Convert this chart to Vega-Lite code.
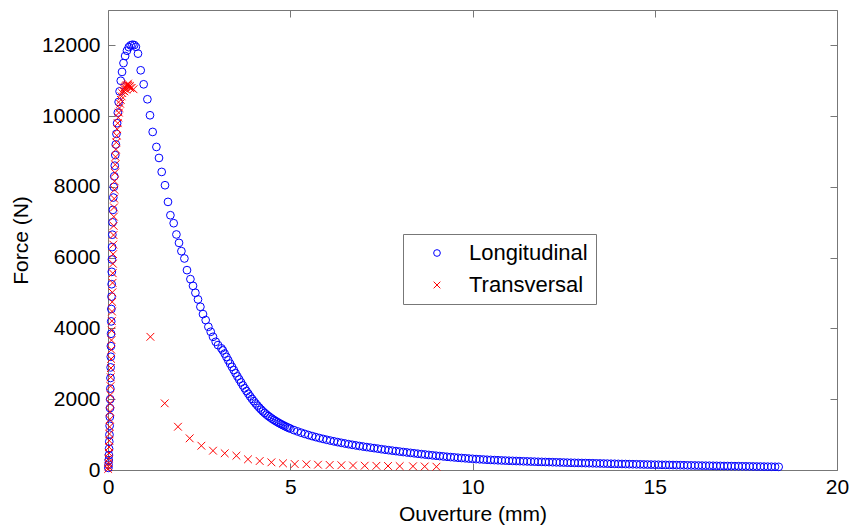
{
"$schema": "https://vega.github.io/schema/vega-lite/v6.json",
"width": 729, "height": 460,
"autosize": {"type": "none"},
"padding": {"left": 108, "top": 10, "right": 15, "bottom": 59},
"background": "white",
"config": {"font": "Liberation Sans", "view": {"stroke": "#777", "strokeWidth": 1}},
"datasets": {"d": [
{"s":"Longitudinal","x":0.01,"y":60},{"s":"Longitudinal","x":0.015,"y":150},{"s":"Longitudinal","x":0.02,"y":280},{"s":"Longitudinal","x":0.025,"y":420},{"s":"Longitudinal","x":0.03,"y":600},{"s":"Longitudinal","x":0.035,"y":800},{"s":"Longitudinal","x":0.04,"y":1000},{"s":"Longitudinal","x":0.045,"y":1250},{"s":"Longitudinal","x":0.05,"y":1500},{"s":"Longitudinal","x":0.055,"y":1750},{"s":"Longitudinal","x":0.06,"y":2000},{"s":"Longitudinal","x":0.064,"y":2300},{"s":"Longitudinal","x":0.068,"y":2600},{"s":"Longitudinal","x":0.072,"y":2900},{"s":"Longitudinal","x":0.076,"y":3200},{"s":"Longitudinal","x":0.08,"y":3500},{"s":"Longitudinal","x":0.084,"y":3850},{"s":"Longitudinal","x":0.088,"y":4200},{"s":"Longitudinal","x":0.092,"y":4550},{"s":"Longitudinal","x":0.096,"y":4900},{"s":"Longitudinal","x":0.1,"y":5250},{"s":"Longitudinal","x":0.104,"y":5600},{"s":"Longitudinal","x":0.108,"y":5950},{"s":"Longitudinal","x":0.113,"y":6300},{"s":"Longitudinal","x":0.119,"y":6650},{"s":"Longitudinal","x":0.126,"y":7000},{"s":"Longitudinal","x":0.134,"y":7350},{"s":"Longitudinal","x":0.145,"y":7700},{"s":"Longitudinal","x":0.158,"y":8000},{"s":"Longitudinal","x":0.172,"y":8300},{"s":"Longitudinal","x":0.186,"y":8600},{"s":"Longitudinal","x":0.2,"y":8900},{"s":"Longitudinal","x":0.215,"y":9200},{"s":"Longitudinal","x":0.232,"y":9500},{"s":"Longitudinal","x":0.25,"y":9800},{"s":"Longitudinal","x":0.27,"y":10100},{"s":"Longitudinal","x":0.292,"y":10400},{"s":"Longitudinal","x":0.318,"y":10700},{"s":"Longitudinal","x":0.35,"y":11000},{"s":"Longitudinal","x":0.385,"y":11250},{"s":"Longitudinal","x":0.425,"y":11500},{"s":"Longitudinal","x":0.47,"y":11700},{"s":"Longitudinal","x":0.52,"y":11850},{"s":"Longitudinal","x":0.57,"y":11950},{"s":"Longitudinal","x":0.62,"y":12000},{"s":"Longitudinal","x":0.67,"y":12020},{"s":"Longitudinal","x":0.72,"y":12010},{"s":"Longitudinal","x":0.765,"y":11960},
{"s":"Longitudinal","x":0.823,"y":11767},{"s":"Longitudinal","x":0.897,"y":11296},{"s":"Longitudinal","x":0.979,"y":10900},{"s":"Longitudinal","x":1.081,"y":10477},{"s":"Longitudinal","x":1.152,"y":10025},{"s":"Longitudinal","x":1.226,"y":9554},{"s":"Longitudinal","x":1.328,"y":9130},{"s":"Longitudinal","x":1.399,"y":8819},{"s":"Longitudinal","x":1.473,"y":8424},{"s":"Longitudinal","x":1.564,"y":8048},{"s":"Longitudinal","x":1.646,"y":7577},{"s":"Longitudinal","x":1.712,"y":7200},{"s":"Longitudinal","x":1.802,"y":6975},{"s":"Longitudinal","x":1.877,"y":6656},{"s":"Longitudinal","x":1.948,"y":6419},{"s":"Longitudinal","x":2.014,"y":6185},{"s":"Longitudinal","x":2.096,"y":5978},{"s":"Longitudinal","x":2.167,"y":5648},{"s":"Longitudinal","x":2.261,"y":5394},{"s":"Longitudinal","x":2.332,"y":5205},{"s":"Longitudinal","x":2.398,"y":5007},{"s":"Longitudinal","x":2.469,"y":4821},{"s":"Longitudinal","x":2.535,"y":4612},{"s":"Longitudinal","x":2.606,"y":4406},{"s":"Longitudinal","x":2.68,"y":4236},{"s":"Longitudinal","x":2.754,"y":4047},{"s":"Longitudinal","x":2.818,"y":3906},{"s":"Longitudinal","x":2.881,"y":3764},{"s":"Longitudinal","x":2.955,"y":3623},{"s":"Longitudinal","x":3.018,"y":3530},{"s":"Longitudinal","x":3.111,"y":3437},
{"s":"Longitudinal","x":3.15,"y":3380},{"s":"Longitudinal","x":3.2,"y":3290},{"s":"Longitudinal","x":3.25,"y":3195},{"s":"Longitudinal","x":3.3,"y":3100},{"s":"Longitudinal","x":3.35,"y":3005},{"s":"Longitudinal","x":3.4,"y":2915},{"s":"Longitudinal","x":3.45,"y":2825},{"s":"Longitudinal","x":3.5,"y":2735},{"s":"Longitudinal","x":3.55,"y":2645},{"s":"Longitudinal","x":3.6,"y":2560},{"s":"Longitudinal","x":3.65,"y":2475},{"s":"Longitudinal","x":3.7,"y":2390},{"s":"Longitudinal","x":3.75,"y":2310},{"s":"Longitudinal","x":3.8,"y":2230},{"s":"Longitudinal","x":3.85,"y":2155},{"s":"Longitudinal","x":3.9,"y":2080},{"s":"Longitudinal","x":3.95,"y":2010},{"s":"Longitudinal","x":4.0,"y":1945},{"s":"Longitudinal","x":4.05,"y":1880},{"s":"Longitudinal","x":4.1,"y":1820},{"s":"Longitudinal","x":4.15,"y":1762},{"s":"Longitudinal","x":4.2,"y":1708},{"s":"Longitudinal","x":4.25,"y":1657},{"s":"Longitudinal","x":4.3,"y":1610},{"s":"Longitudinal","x":4.35,"y":1566},{"s":"Longitudinal","x":4.4,"y":1525},{"s":"Longitudinal","x":4.45,"y":1487},{"s":"Longitudinal","x":4.5,"y":1450},{"s":"Longitudinal","x":4.55,"y":1416},{"s":"Longitudinal","x":4.6,"y":1383},{"s":"Longitudinal","x":4.65,"y":1352},{"s":"Longitudinal","x":4.7,"y":1322},{"s":"Longitudinal","x":4.75,"y":1294},{"s":"Longitudinal","x":4.8,"y":1267},{"s":"Longitudinal","x":4.85,"y":1241},{"s":"Longitudinal","x":4.9,"y":1216},{"s":"Longitudinal","x":4.95,"y":1193},{"s":"Longitudinal","x":5.0,"y":1170},
{"s":"Longitudinal","x":5.1,"y":1128},{"s":"Longitudinal","x":5.2,"y":1090},{"s":"Longitudinal","x":5.3,"y":1054},{"s":"Longitudinal","x":5.4,"y":1020},{"s":"Longitudinal","x":5.5,"y":988},{"s":"Longitudinal","x":5.6,"y":958},{"s":"Longitudinal","x":5.7,"y":930},{"s":"Longitudinal","x":5.8,"y":903},{"s":"Longitudinal","x":5.9,"y":878},{"s":"Longitudinal","x":6.0,"y":854},{"s":"Longitudinal","x":6.1,"y":831},{"s":"Longitudinal","x":6.2,"y":809},{"s":"Longitudinal","x":6.3,"y":788},{"s":"Longitudinal","x":6.4,"y":768},{"s":"Longitudinal","x":6.5,"y":749},{"s":"Longitudinal","x":6.6,"y":730},{"s":"Longitudinal","x":6.7,"y":712},{"s":"Longitudinal","x":6.8,"y":695},{"s":"Longitudinal","x":6.9,"y":678},{"s":"Longitudinal","x":7.0,"y":662},{"s":"Longitudinal","x":7.1,"y":647},{"s":"Longitudinal","x":7.2,"y":632},{"s":"Longitudinal","x":7.3,"y":618},{"s":"Longitudinal","x":7.4,"y":604},{"s":"Longitudinal","x":7.5,"y":588},{"s":"Longitudinal","x":7.6,"y":574},{"s":"Longitudinal","x":7.7,"y":560},{"s":"Longitudinal","x":7.8,"y":547},{"s":"Longitudinal","x":7.9,"y":534},{"s":"Longitudinal","x":8.0,"y":521},{"s":"Longitudinal","x":8.1,"y":508},{"s":"Longitudinal","x":8.2,"y":496},{"s":"Longitudinal","x":8.3,"y":484},{"s":"Longitudinal","x":8.4,"y":472},{"s":"Longitudinal","x":8.5,"y":460},{"s":"Longitudinal","x":8.6,"y":448},{"s":"Longitudinal","x":8.7,"y":437},{"s":"Longitudinal","x":8.8,"y":426},{"s":"Longitudinal","x":8.9,"y":415},{"s":"Longitudinal","x":9.0,"y":404},{"s":"Longitudinal","x":9.1,"y":394},{"s":"Longitudinal","x":9.2,"y":384},{"s":"Longitudinal","x":9.3,"y":374},{"s":"Longitudinal","x":9.4,"y":365},{"s":"Longitudinal","x":9.5,"y":356},{"s":"Longitudinal","x":9.6,"y":347},{"s":"Longitudinal","x":9.7,"y":339},{"s":"Longitudinal","x":9.8,"y":331},{"s":"Longitudinal","x":9.9,"y":323},{"s":"Longitudinal","x":10.0,"y":316},{"s":"Longitudinal","x":10.1,"y":308},{"s":"Longitudinal","x":10.2,"y":302},{"s":"Longitudinal","x":10.3,"y":296},{"s":"Longitudinal","x":10.4,"y":290},{"s":"Longitudinal","x":10.5,"y":285},{"s":"Longitudinal","x":10.6,"y":280},{"s":"Longitudinal","x":10.7,"y":275},{"s":"Longitudinal","x":10.8,"y":270},{"s":"Longitudinal","x":10.9,"y":266},{"s":"Longitudinal","x":11.0,"y":262},{"s":"Longitudinal","x":11.1,"y":258},{"s":"Longitudinal","x":11.2,"y":254},{"s":"Longitudinal","x":11.3,"y":250},{"s":"Longitudinal","x":11.4,"y":246},{"s":"Longitudinal","x":11.5,"y":243},{"s":"Longitudinal","x":11.6,"y":239},{"s":"Longitudinal","x":11.7,"y":236},{"s":"Longitudinal","x":11.8,"y":232},{"s":"Longitudinal","x":11.9,"y":229},{"s":"Longitudinal","x":12.0,"y":226},{"s":"Longitudinal","x":12.1,"y":223},{"s":"Longitudinal","x":12.2,"y":220},{"s":"Longitudinal","x":12.3,"y":217},{"s":"Longitudinal","x":12.4,"y":214},{"s":"Longitudinal","x":12.5,"y":211},{"s":"Longitudinal","x":12.6,"y":208},{"s":"Longitudinal","x":12.7,"y":205},{"s":"Longitudinal","x":12.8,"y":202},{"s":"Longitudinal","x":12.9,"y":200},{"s":"Longitudinal","x":13.0,"y":197},{"s":"Longitudinal","x":13.1,"y":195},{"s":"Longitudinal","x":13.2,"y":192},{"s":"Longitudinal","x":13.3,"y":190},{"s":"Longitudinal","x":13.4,"y":187},{"s":"Longitudinal","x":13.5,"y":185},{"s":"Longitudinal","x":13.6,"y":182},{"s":"Longitudinal","x":13.7,"y":180},{"s":"Longitudinal","x":13.8,"y":177},{"s":"Longitudinal","x":13.9,"y":175},{"s":"Longitudinal","x":14.0,"y":172},{"s":"Longitudinal","x":14.1,"y":170},{"s":"Longitudinal","x":14.2,"y":168},{"s":"Longitudinal","x":14.3,"y":165},{"s":"Longitudinal","x":14.4,"y":163},{"s":"Longitudinal","x":14.5,"y":161},{"s":"Longitudinal","x":14.6,"y":159},{"s":"Longitudinal","x":14.7,"y":156},{"s":"Longitudinal","x":14.8,"y":154},{"s":"Longitudinal","x":14.9,"y":152},{"s":"Longitudinal","x":15.0,"y":150},{"s":"Longitudinal","x":15.1,"y":148},{"s":"Longitudinal","x":15.2,"y":146},{"s":"Longitudinal","x":15.3,"y":144},{"s":"Longitudinal","x":15.4,"y":142},{"s":"Longitudinal","x":15.5,"y":140},{"s":"Longitudinal","x":15.6,"y":138},{"s":"Longitudinal","x":15.7,"y":136},{"s":"Longitudinal","x":15.8,"y":134},{"s":"Longitudinal","x":15.9,"y":132},{"s":"Longitudinal","x":16.0,"y":130},{"s":"Longitudinal","x":16.1,"y":128},{"s":"Longitudinal","x":16.2,"y":126},{"s":"Longitudinal","x":16.3,"y":124},{"s":"Longitudinal","x":16.4,"y":122},{"s":"Longitudinal","x":16.5,"y":121},{"s":"Longitudinal","x":16.6,"y":119},{"s":"Longitudinal","x":16.7,"y":117},{"s":"Longitudinal","x":16.8,"y":115},{"s":"Longitudinal","x":16.9,"y":113},{"s":"Longitudinal","x":17.0,"y":112},{"s":"Longitudinal","x":17.1,"y":110},{"s":"Longitudinal","x":17.2,"y":108},{"s":"Longitudinal","x":17.3,"y":107},{"s":"Longitudinal","x":17.4,"y":105},{"s":"Longitudinal","x":17.5,"y":103},{"s":"Longitudinal","x":17.6,"y":102},{"s":"Longitudinal","x":17.7,"y":100},{"s":"Longitudinal","x":17.8,"y":98},{"s":"Longitudinal","x":17.9,"y":97},{"s":"Longitudinal","x":18.0,"y":95},{"s":"Longitudinal","x":18.1,"y":94},{"s":"Longitudinal","x":18.2,"y":92},{"s":"Longitudinal","x":18.3,"y":91},{"s":"Longitudinal","x":18.4,"y":89},
{"s":"Transversal","x":0.005,"y":30},{"s":"Transversal","x":0.01,"y":100},{"s":"Transversal","x":0.015,"y":200},{"s":"Transversal","x":0.02,"y":330},{"s":"Transversal","x":0.025,"y":480},{"s":"Transversal","x":0.03,"y":650},{"s":"Transversal","x":0.035,"y":830},{"s":"Transversal","x":0.04,"y":1020},{"s":"Transversal","x":0.045,"y":1220},{"s":"Transversal","x":0.05,"y":1430},{"s":"Transversal","x":0.055,"y":1650},{"s":"Transversal","x":0.06,"y":1880},{"s":"Transversal","x":0.065,"y":2120},{"s":"Transversal","x":0.07,"y":2370},{"s":"Transversal","x":0.075,"y":2620},{"s":"Transversal","x":0.08,"y":2880},{"s":"Transversal","x":0.085,"y":3140},{"s":"Transversal","x":0.09,"y":3400},{"s":"Transversal","x":0.095,"y":3670},{"s":"Transversal","x":0.1,"y":3940},{"s":"Transversal","x":0.105,"y":4210},{"s":"Transversal","x":0.11,"y":4480},{"s":"Transversal","x":0.115,"y":4750},{"s":"Transversal","x":0.12,"y":5020},{"s":"Transversal","x":0.125,"y":5290},{"s":"Transversal","x":0.13,"y":5560},{"s":"Transversal","x":0.135,"y":5830},{"s":"Transversal","x":0.14,"y":6100},{"s":"Transversal","x":0.145,"y":6370},{"s":"Transversal","x":0.15,"y":6640},{"s":"Transversal","x":0.155,"y":6900},{"s":"Transversal","x":0.16,"y":7160},{"s":"Transversal","x":0.165,"y":7420},{"s":"Transversal","x":0.17,"y":7670},{"s":"Transversal","x":0.176,"y":7920},{"s":"Transversal","x":0.182,"y":8160},{"s":"Transversal","x":0.19,"y":8400},{"s":"Transversal","x":0.198,"y":8630},{"s":"Transversal","x":0.207,"y":8850},{"s":"Transversal","x":0.217,"y":9060},{"s":"Transversal","x":0.228,"y":9260},{"s":"Transversal","x":0.24,"y":9450},{"s":"Transversal","x":0.253,"y":9630},{"s":"Transversal","x":0.267,"y":9800},{"s":"Transversal","x":0.282,"y":9960},{"s":"Transversal","x":0.298,"y":10100},{"s":"Transversal","x":0.315,"y":10230},{"s":"Transversal","x":0.333,"y":10350},{"s":"Transversal","x":0.352,"y":10460},{"s":"Transversal","x":0.372,"y":10560},{"s":"Transversal","x":0.393,"y":10650},{"s":"Transversal","x":0.415,"y":10720},{"s":"Transversal","x":0.438,"y":10780},{"s":"Transversal","x":0.462,"y":10820},{"s":"Transversal","x":0.487,"y":10850},{"s":"Transversal","x":0.512,"y":10870},{"s":"Transversal","x":0.538,"y":10880},{"s":"Transversal","x":0.563,"y":10860},{"s":"Transversal","x":0.588,"y":10830},{"s":"Transversal","x":0.612,"y":10790},{"s":"Transversal","x":0.5,"y":10750},{"s":"Transversal","x":0.55,"y":10920},{"s":"Transversal","x":0.6,"y":10850},{"s":"Transversal","x":0.45,"y":10700},{"s":"Transversal","x":0.65,"y":10800},{"s":"Transversal","x":0.7,"y":10760},
{"s":"Transversal","x":1.163,"y":3764},{"s":"Transversal","x":1.556,"y":1884},{"s":"Transversal","x":1.92,"y":1223},{"s":"Transversal","x":2.241,"y":895},{"s":"Transversal","x":2.562,"y":686},{"s":"Transversal","x":2.881,"y":546},{"s":"Transversal","x":3.202,"y":472},{"s":"Transversal","x":3.523,"y":404},{"s":"Transversal","x":3.841,"y":302},{"s":"Transversal","x":4.162,"y":254},{"s":"Transversal","x":4.483,"y":217},{"s":"Transversal","x":4.801,"y":189},{"s":"Transversal","x":5.122,"y":169},{"s":"Transversal","x":5.443,"y":161},{"s":"Transversal","x":5.761,"y":150},{"s":"Transversal","x":6.082,"y":143},{"s":"Transversal","x":6.403,"y":135},{"s":"Transversal","x":6.722,"y":128},{"s":"Transversal","x":7.043,"y":122},{"s":"Transversal","x":7.363,"y":118},{"s":"Transversal","x":7.682,"y":114},{"s":"Transversal","x":8.003,"y":110},{"s":"Transversal","x":8.368,"y":105},{"s":"Transversal","x":8.689,"y":100},{"s":"Transversal","x":9.01,"y":93}
]},
"layer": [
{"data": {"name": "d"},
 "mark": {"type": "point", "filled": false, "size": 60, "strokeWidth": 1, "opacity": 1, "clip": false},
 "encoding": {
  "x": {"field": "x", "type": "quantitative", "scale": {"domain": [0, 20], "nice": false, "zero": false},
        "axis": {"values": [0, 5, 10, 15, 20], "title": "Ouverture (mm)", "grid": false, "domain": false, "tickSize": -7, "tickColor": "#777", "labelFontSize": 21, "labelColor": "black", "labelPadding": 13, "labelFlush": false, "titleFontSize": 21, "titleFontWeight": "normal", "titleColor": "black", "titlePadding": 6}},
  "y": {"field": "y", "type": "quantitative", "scale": {"domain": [0, 13000], "nice": false},
        "axis": {"values": [0, 2000, 4000, 6000, 8000, 10000, 12000], "format": "d", "title": "Force (N)", "grid": false, "domain": false, "tickSize": -7, "tickColor": "#777", "labelFontSize": 21, "labelColor": "black", "labelPadding": 15, "labelFlush": false, "titleFontSize": 21, "titleFontWeight": "normal", "titleColor": "black", "titlePadding": 10}},
  "color": {"field": "s", "type": "nominal", "scale": {"domain": ["Longitudinal", "Transversal"], "range": ["#0000ff", "#ff0000"]},
            "legend": {"title": null, "orient": "none", "legendX": 295, "legendY": 224, "strokeColor": "#777", "fillColor": "white", "padding": 8, "labelFontSize": 22, "labelColor": "black", "symbolSize": 45, "symbolStrokeWidth": 1, "symbolOffset": 15, "labelOffset": 21, "rowPadding": 10}},
  "shape": {"field": "s", "type": "nominal", "scale": {"domain": ["Longitudinal", "Transversal"], "range": ["circle", "M-1,-1L1,1M-1,1L1,-1"]},
            "legend": {"title": null, "orient": "none", "legendX": 295, "legendY": 224, "strokeColor": "#777", "fillColor": "white", "padding": 8, "labelFontSize": 22, "labelColor": "black", "symbolSize": 45, "symbolStrokeWidth": 1, "symbolOffset": 15, "labelOffset": 21, "rowPadding": 10}}
 }},
{"data": {"name": "d"},
 "mark": {"type": "point", "opacity": 0},
 "encoding": {
  "x": {"field": "x", "type": "quantitative", "scale": {"domain": [0, 20], "nice": false, "zero": false},
        "axis": {"orient": "top", "values": [0, 5, 10, 15, 20], "title": null, "labels": false, "grid": false, "domain": false, "tickSize": -7, "tickColor": "#777"}},
  "y": {"field": "y", "type": "quantitative", "scale": {"domain": [0, 13000], "nice": false},
        "axis": {"orient": "right", "values": [0, 2000, 4000, 6000, 8000, 10000, 12000], "title": null, "labels": false, "grid": false, "domain": false, "tickSize": -7, "tickColor": "#777"}}
 }}
],
"resolve": {"axis": {"x": "independent", "y": "independent"}}
}
